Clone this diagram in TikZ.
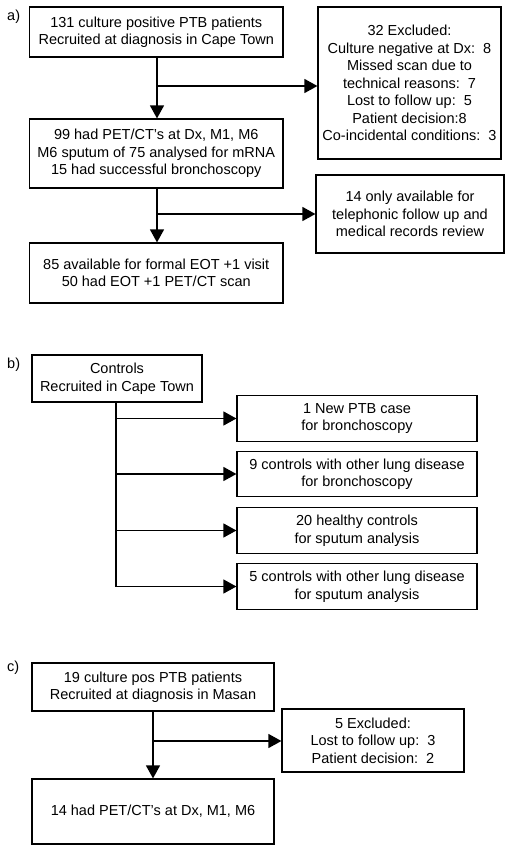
\documentclass[tikz,border=0pt]{standalone}
\usepackage{fontspec}
\setmainfont{Liberation Sans}
\usetikzlibrary{arrows.meta,calc}
\tikzset{
  pbox/.style 2 args={draw, line width=1.2pt, align=center, inner sep=1pt,
    minimum width=#1pt, minimum height=#2pt,
    font=\fontsize{14.5}{17.5}\selectfont},
  conn/.style={line width=1.3pt},
  arr/.style={line width=1.3pt, -{Triangle[length=13pt,width=14pt]}},
  plabel/.style={anchor=west, inner sep=0pt, font=\fontsize{14.5}{17.5}\selectfont}
}
\begin{document}
\begin{tikzpicture}[x=1pt,y=-1pt]
\useasboundingbox[fill=white] (0,0) rectangle (512,852);

% ---- panel a
\node[plabel] (la) at (7,17) {a)};
\node[pbox={253.5}{50}] (A1) at (156.25,32) {131 culture positive PTB patients\\Recruited at diagnosis in Cape Town};
\node[pbox={183}{152}] (AE) at (409.5,83) {32 Excluded:\\Culture negative at Dx:\ \ 8\\Missed scan due to\\technical reasons:\ \ 7\\Lost to follow up:\ \ 5\\Patient decision:8\\Co-incidental conditions:\ \ 3};
\node[pbox={253.5}{69}] (A2) at (156.25,153.5) {99 had PET/CT's at Dx, M1, M6\\M6 sputum of 75 analysed for mRNA\\15 had successful bronchoscopy};
\node[pbox={188}{78}] (AT) at (410,214) {14 only available for\\telephonic follow up and\\medical records review};
\node[pbox={253.5}{60}] (A3) at (156.25,273) {85 available for formal EOT +1 visit\\50 had EOT +1 PET/CT scan};

\coordinate (a1) at (157,86);
\coordinate (a2) at (157,214);
\draw[arr] (A1.south -| a1) -- (A2.north -| a1);
\draw[arr] (a1) -- (a1 -| AE.west);
\draw[arr] (A2.south -| a2) -- (A3.north -| a2);
\draw[arr] (a2) -- (a2 -| AT.west);

% ---- panel b
\node[plabel] (lb) at (7,365) {b)};
\node[pbox={170}{47}] (B0) at (117,378.5) {Controls\\Recruited in Cape Town};
\node[pbox={240}{45.5}] (B1) at (357,418.5) {1 New PTB case\\for bronchoscopy};
\node[pbox={240}{45.5}] (B2) at (357,474) {9 controls with other lung disease\\for bronchoscopy};
\node[pbox={240}{45.5}] (B3) at (357,530.5) {20 healthy controls\\for sputum analysis};
\node[pbox={240}{45.5}] (B4) at (357,586.5) {5 controls with other lung disease\\for sputum analysis};

\coordinate (bt) at (116,0);
\coordinate (bb) at (B4.west -| bt);
\draw[conn] (B0.south -| bt) -- (bb);
\draw[arr] (B1.west -| bt) -- (B1.west);
\draw[arr] (B2.west -| bt) -- (B2.west);
\draw[arr] (B3.west -| bt) -- (B3.west);
\draw[arr] (bb) -- (B4.west);

% ---- panel c
\node[plabel] (lc) at (7,668) {c)};
\node[pbox={242}{48}] (C0) at (153,687) {19 culture pos PTB patients\\Recruited at diagnosis in Masan};
\node[pbox={182}{63}] (CE) at (373,740.5) {5 Excluded:\\Lost to follow up:\ \ 3\\Patient decision:\ \ 2};
\node[pbox={242}{65}] (C1) at (153,811.5) {14 had PET/CT's at Dx, M1, M6};

\coordinate (c1) at (153,741);
\draw[arr] (C0.south -| c1) -- (C1.north -| c1);
\draw[arr] (c1) -- (c1 -| CE.west);
\end{tikzpicture}
\end{document}
